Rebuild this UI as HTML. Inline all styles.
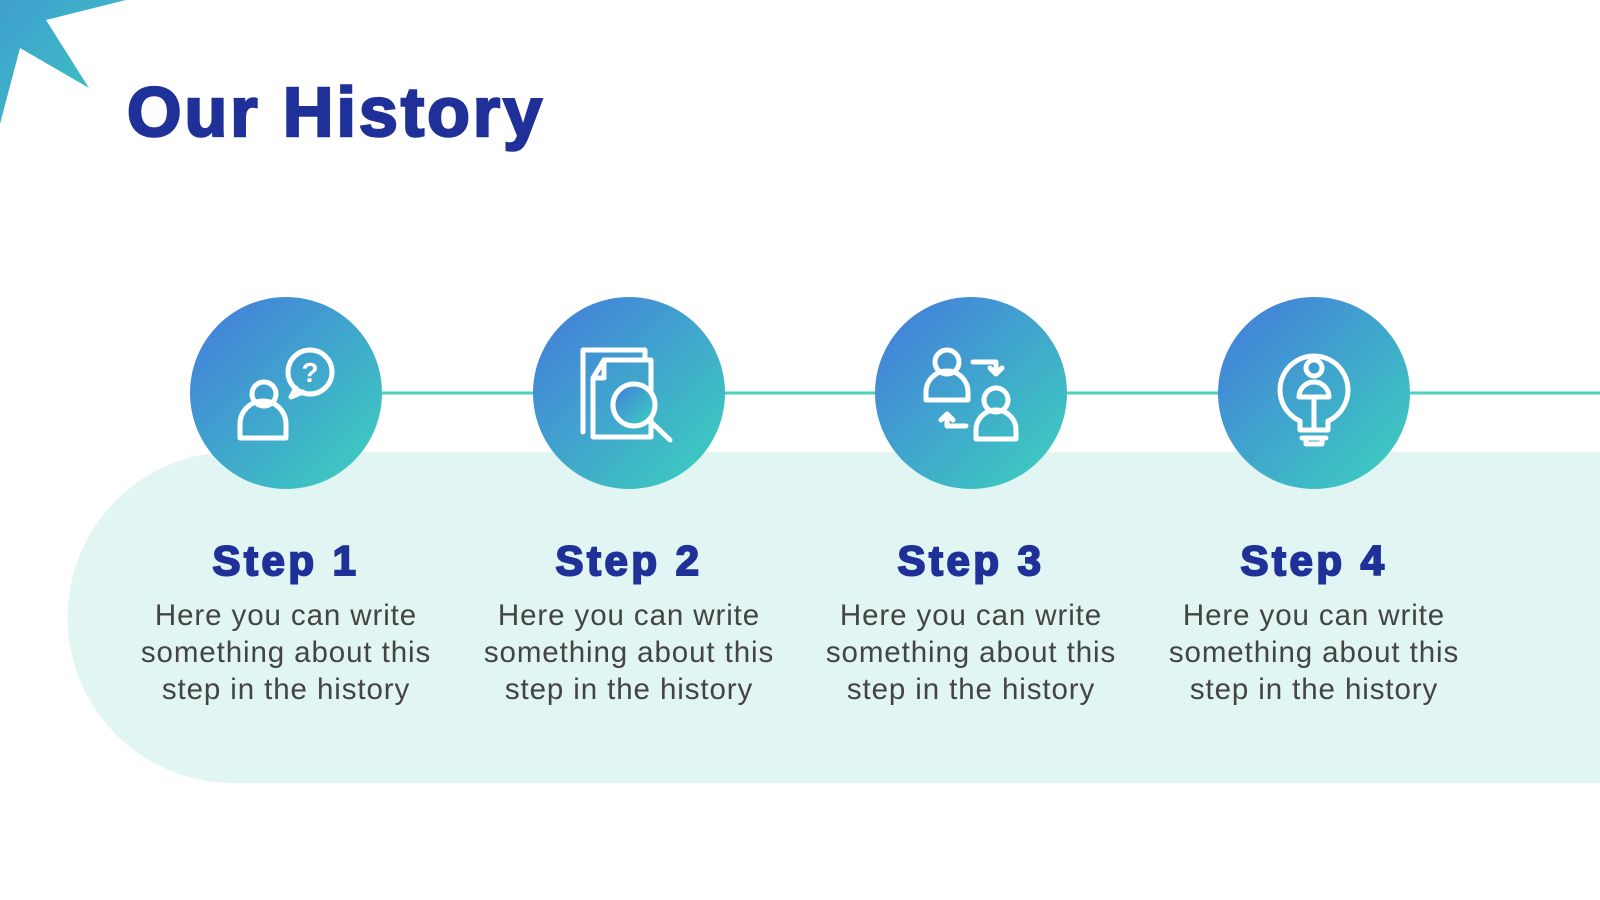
<!DOCTYPE html>
<html><head><meta charset="utf-8"><style>
body{margin:0;width:1600px;height:900px;background:#fff;overflow:hidden;position:relative;font-family:"Liberation Sans",sans-serif}
.t{position:absolute;left:127px;top:72px;font-size:70px;font-weight:bold;color:#1f3199;letter-spacing:3px;-webkit-text-stroke:2.5px #1f3199}
.st{position:absolute;width:400px;text-align:center;font-size:42px;font-weight:bold;color:#1f3199;top:537px;letter-spacing:3.5px;-webkit-text-stroke:2px #1f3199}
.d{position:absolute;width:400px;text-align:center;font-size:29.5px;line-height:37px;color:#444;top:597px;letter-spacing:0.9px}
</style></head><body>
<svg width="1600" height="900" style="position:absolute;left:0;top:0">
<defs>
<linearGradient id="g" x1="0" y1="0" x2="1" y2="1"><stop offset="0" stop-color="#4479dc"/><stop offset="1" stop-color="#3cd3bd"/></linearGradient>
<linearGradient id="g2" x1="0" y1="0" x2="1" y2="1"><stop offset="0" stop-color="#3f9ed0"/><stop offset="1" stop-color="#3cc9c0"/></linearGradient>
</defs>
<polygon points="0,0 126,0 46,20 89,88 20,48 0,124" fill="url(#g2)"/>
<path d="M233,452 H1600 V783 H233 A165,165 0 0 1 233,452 Z" fill="#e1f5f2"/>
<line x1="286" y1="393" x2="1600" y2="393" stroke="#4fd0bd" stroke-width="3"/>
<g fill="url(#g)">
<circle cx="286" cy="393" r="96"/><circle cx="629" cy="393" r="96"/><circle cx="971" cy="393" r="96"/><circle cx="1314" cy="393" r="96"/>
</g>
<g fill="none" stroke="#fff" stroke-width="5" stroke-linejoin="round" stroke-linecap="round">
<circle cx="264" cy="394" r="12"/>
<path d="M240,438 V424 A23,23 0 0 1 286,424 V438 Z"/>
<circle cx="310" cy="372" r="22"/>
<path d="M296,388 L291,397 L303,392"/>
<text x="310" y="382" fill="#fff" stroke="none" font-size="28" font-weight="bold" text-anchor="middle" font-family="Liberation Sans">?</text>
<path d="M583,432 V350 H645 V358"/>
<path d="M604,360 H651 V437 H593 V378 Z"/>
<path d="M593,378 H604 V360"/>
<circle cx="634" cy="405" r="21" fill="url(#g)"/>
<path d="M649,420 L670,440"/>
<circle cx="947" cy="362" r="12"/>
<path d="M926,400 V392 A21,21 0 0 1 968,392 V400 Z"/>
<circle cx="996" cy="400" r="12"/>
<path d="M976,439 V430 A20,20 0 0 1 1016,430 V439 Z"/>
<path d="M973,362 H996 V373 M990,368 L996,374 L1002,368"/>
<path d="M966,426 H947 V415 M941,420 L947,414 L953,420"/>
<path d="M1300,421 A34,34 0 1 1 1328,421 V430 H1300 Z"/>
<circle cx="1314" cy="368" r="8"/>
<path d="M1299,397 A15,15 0 0 1 1329,397 Z"/>
<path d="M1314,397 V430 M1302,438 H1326 M1306,438 V444 H1322 V438"/>
</g>
</svg>
<div class="t">Our History</div>
<div class="st" style="left:86px">Step 1</div>
<div class="st" style="left:429px">Step 2</div>
<div class="st" style="left:771px">Step 3</div>
<div class="st" style="left:1114px">Step 4</div>
<div class="d" style="left:86px">Here you can write<br>something about this<br>step in the history</div>
<div class="d" style="left:429px">Here you can write<br>something about this<br>step in the history</div>
<div class="d" style="left:771px">Here you can write<br>something about this<br>step in the history</div>
<div class="d" style="left:1114px">Here you can write<br>something about this<br>step in the history</div>
</body></html>
